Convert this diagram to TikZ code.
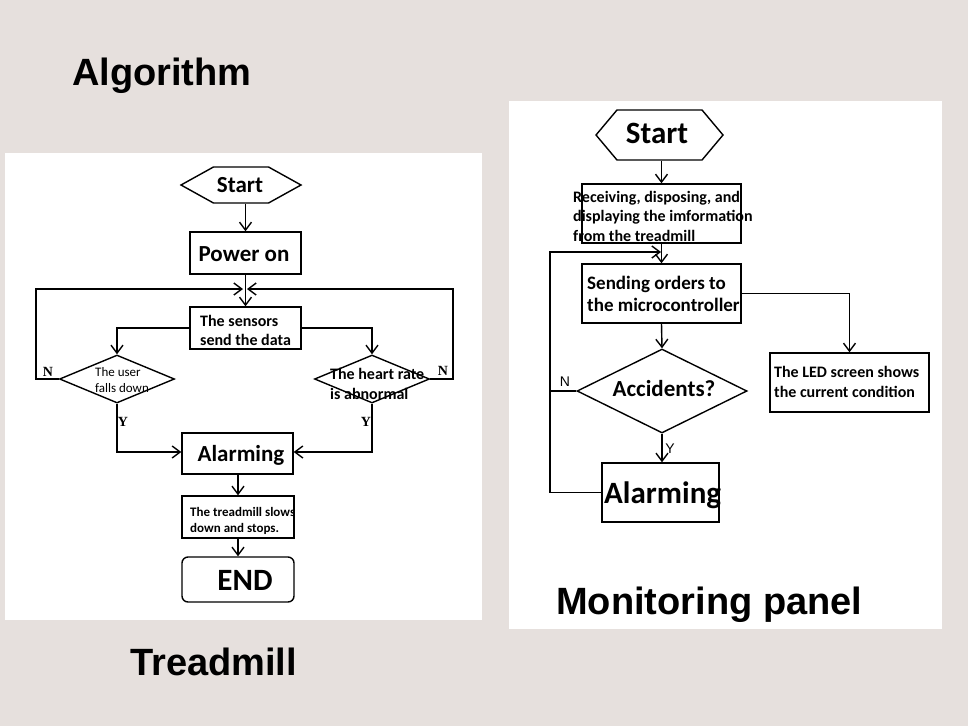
\documentclass[tikz,border=0pt]{standalone}
\usepackage{fontspec}
\usetikzlibrary{arrows.meta,shapes.geometric,shapes.symbols}
\newfontfamily\fc{Carlito}
\newfontfamily\fa{Liberation Sans}
\newfontfamily\fs{Liberation Serif}
\definecolor{bgc}{RGB}{230,224,221}
\newcommand{\fsz}[2]{\fontsize{#1}{#2}\selectfont}
\tikzset{
  box/.style={draw, line width=1.4pt, fill=white, inner sep=0pt},
  hexa/.style={draw, line width=1.4pt, fill=white, signal, signal to=east and west, inner sep=0pt},
  dia/.style={draw, line width=1.4pt, fill=white, diamond, inner sep=0pt},
  conn/.style={line width=1.4pt},
  arr/.style={line width=1.4pt, -{Straight Barb[length=8pt,width=12pt,line width=1.4pt]}},
  txt/.style={inner sep=0pt, font=\fc\bfseries},
  title/.style={inner sep=0pt, anchor=base west, font=\fa\bfseries\fsz{38}{40}},
}
\begin{document}
\begin{tikzpicture}[x=1pt,y=-1pt]
\path[fill=bgc] (0,0) rectangle (968,726);
\useasboundingbox (0,0) rectangle (968,726);
% panels
\path[fill=white] (5,153) rectangle (482,620);
\path[fill=white] (509,101) rectangle (942,629);
% titles
\node[title] (t1) at (72,85) {Algorithm};
\node[title] (t2) at (130,675) {Treadmill};
\node[title] (t3) at (556,614) {Monitoring panel};

% ===== Left: treadmill =====
\node[hexa, minimum width=120pt, minimum height=36pt, signal pointer angle=58] (ls) at (241,185) {};
\node[txt, font=\fc\bfseries\fsz{23}{26}] (lst) at (240,185) {Start};
\node[box, minimum width=111pt, minimum height=42pt] (pw) at (245.5,253) {};
\node[txt, font=\fc\bfseries\fsz{23}{26}] (pwt) at (244,254) {Power on};
\node[box, minimum width=111pt, minimum height=42pt] (sn) at (245.5,328) {};
\node[txt, font=\fc\bfseries\fsz{16}{19}, align=left, anchor=west] (snt) at (200,330) {The sensors\\send the data};
\node[dia, minimum width=115pt, minimum height=48pt] (ld) at (117,379) {};
\node[inner sep=0pt, font=\fc\fsz{13}{16}, align=left, anchor=west] (ldt) at (95,380) {The user\\falls down};
\node[dia, minimum width=115pt, minimum height=48pt] (rd) at (372,379) {};
\node[txt, font=\fc\bfseries\fsz{16}{20}, align=left, anchor=west] (rdt) at (330,384) {The heart rate\\is abnormal};
\node[box, minimum width=111pt, minimum height=41pt] (al) at (237.5,453.5) {};
\node[txt, font=\fc\bfseries\fsz{23}{26}] (alt) at (241,455) {Alarming};
\node[box, minimum width=112pt, minimum height=42pt] (tm) at (238,517) {};
\node[txt, font=\fc\bfseries\fsz{13}{16}, align=left, anchor=west] (tmt) at (190,521) {The treadmill slows\\down and stops.};
\node[box, rounded corners=6pt, minimum width=112pt, minimum height=45pt] (en) at (238,579.5) {};
\node[txt, font=\fc\bfseries\fsz{31}{34}] (ent) at (245,580) {END};

\coordinate (jl) at (243,289);
\coordinate (jr) at (247,289);
\coordinate (lx) at (36,289);
\coordinate (rx) at (453,289);
\draw[arr] (pw.north |- ls.south) -- (pw.north);
\draw[arr] (pw.south) -- (sn.north);
\draw[arr] (ld.west) -| (lx) -- (jl);
\draw[arr] (rd.east) -| (rx) -- (jr);
\draw[arr] (sn.west) -| (ld.north);
\draw[arr] (sn.east) -| (rd.north);
\draw[arr] (ld.south) |- (al.west |- 0,452);
\draw[arr] (rd.south) |- (al.east |- 0,452);
\draw[arr] (al.south -| tm.north) -- (tm.north);
\draw[arr] (tm.south) -- (en.north);
\node[inner sep=0pt, font=\fs\bfseries\fsz{14}{16}] (ln) at (48,372) {N};
\node[inner sep=0pt, font=\fs\bfseries\fsz{14}{16}] (rn) at (443,371) {N};
\node[inner sep=0pt, font=\fs\bfseries\fsz{14}{16}] (ly) at (123,422) {Y};
\node[inner sep=0pt, font=\fs\bfseries\fsz{14}{16}] (ry) at (366,422) {Y};

% ===== Right: monitoring panel =====
\node[hexa, minimum width=127pt, minimum height=50pt, signal pointer angle=100] (rs) at (659.5,135) {};
\node[txt, font=\fc\bfseries\fsz{31}{34}] (rst) at (657,133) {Start};
\node[box, minimum width=159pt, minimum height=59pt] (rc) at (661.5,213.5) {};
\node[txt, font=\fc\bfseries\fsz{16}{19.5}, align=left, anchor=west] (rct) at (573,216) {Receiving, disposing, and\\displaying the imformation\\from the treadmill};
\node[box, minimum width=159pt, minimum height=59pt] (sd) at (661.5,293.5) {};
\node[txt, font=\fc\bfseries\fsz{19}{22}, align=left, anchor=west] (sdt) at (587,294) {Sending orders to\\the microcontroller};
\node[dia, minimum width=170pt, minimum height=84pt] (ad) at (662,391) {};
\node[txt, font=\fc\bfseries\fsz{23}{26}] (adt) at (664,389) {Accidents?};
\node[box, minimum width=159pt, minimum height=59pt] (led) at (849.5,382.5) {};
\node[txt, font=\fc\bfseries\fsz{16}{20}, align=left, anchor=west] (ledt) at (774,382) {The LED screen shows\\the current condition};
\node[box, minimum width=117pt, minimum height=59pt] (ra) at (660.5,492.5) {};
\node[txt, font=\fc\bfseries\fsz{31}{34}, anchor=west] (rat) at (604,495) {Alarming};

\coordinate (lp) at (550,252);
\coordinate (jn) at (661,252);
\draw[arr] (rc.north |- rs.south) -- (rc.north);
\draw[arr] (rc.south) -- (sd.north);
\draw[arr] (sd.south) -- (ad.north);
\draw[arr] (sd.east) -| (led.north);
\draw[arr] (ad.south) -- (ad.south |- ra.north);
\draw[arr] (ra.west) -| (lp) -- (jn);
\draw[conn] (ad.west) -- (ad.west -| lp);
\node[inner sep=0pt, font=\fa\fsz{14}{16}] (mn) at (565,382) {N};
\node[inner sep=0pt, font=\fa\fsz{14}{16}] (my) at (670,449) {Y};
\end{tikzpicture}
\end{document}
